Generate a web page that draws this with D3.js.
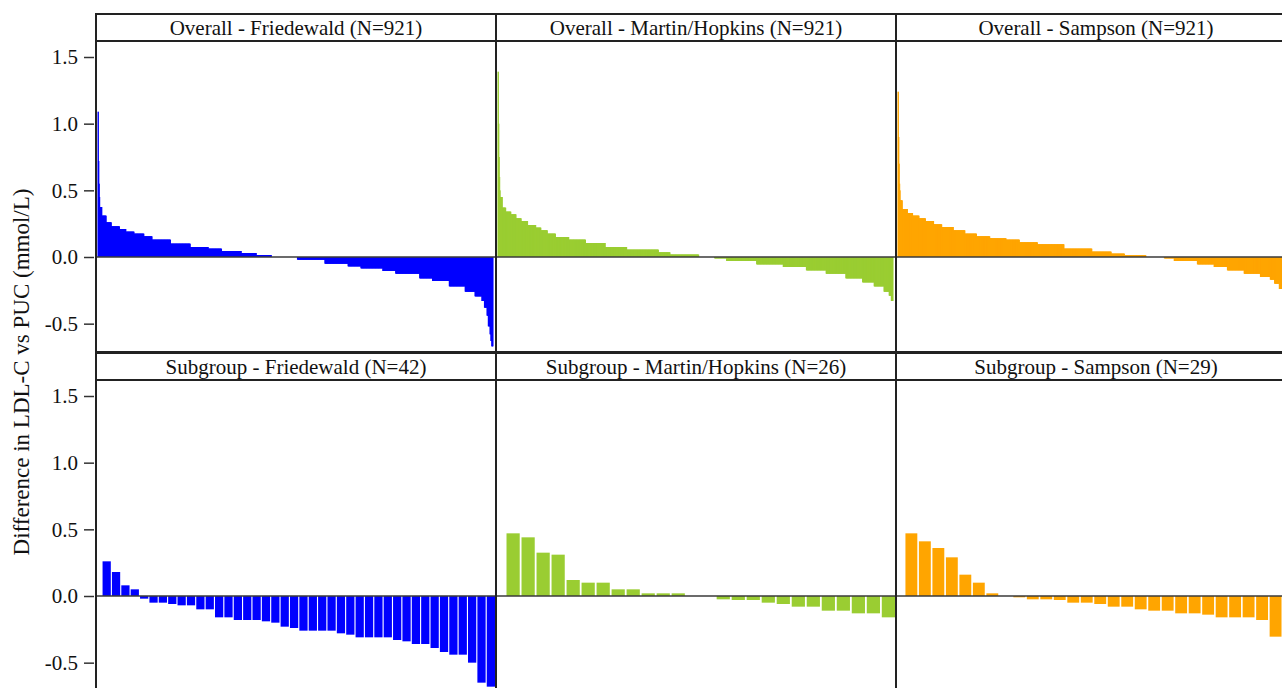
<!DOCTYPE html>
<html>
<head>
  <title>LDL-C differences</title>
  <script src="https://d3js.org/d3.v7.min.js"></script>
  <style>
    body { margin: 0; background: #fff; }
    text { font-family: "Liberation Serif", "Times New Roman", serif; fill: #111; }
  </style>
</head>
<body>
<script type="text/javascript">
  var friedewaldOverallValues = [1.09, 0.72, 0.55, 0.45, 0.375, 0.31, 0.26, 0.23, 0.21, 0.19, 0.175, 0.155, 0.13, 0.10, 0.075, 0.0625, 0.045, 0.03, 0.015,
    0, -0.02, -0.05, -0.07, -0.085, -0.105, -0.125, -0.16, -0.18, -0.22, -0.26, -0.295, -0.33, -0.38, -0.44, -0.52, -0.58, -0.63, -0.67];
  var friedewaldOverallCounts = [1, 1, 1, 1, 5, 10, 12, 19, 15, 19, 23, 19, 43, 46, 42, 31, 46, 35, 35,
    61, 64, 54, 30, 51, 30, 56, 30, 39, 37, 23, 16, 6, 6, 3, 4, 2, 2, 3];

  var martinOverallValues = [1.39, 1.0, 0.75, 0.6, 0.5, 0.45, 0.37, 0.34, 0.32, 0.29, 0.27, 0.24, 0.22, 0.20, 0.175, 0.15, 0.13, 0.105, 0.075, 0.055, 0.035, 0.018,
    0, -0.01, -0.03, -0.055, -0.075, -0.10, -0.125, -0.16, -0.19, -0.22, -0.26, -0.29, -0.33];
  var martinOverallCounts = [1, 1, 1, 1, 1, 5, 8, 12, 12, 12, 15, 19, 12, 15, 19, 31, 39, 46, 50, 74, 27, 67,
    37, 28, 70, 62, 54, 46, 46, 39, 27, 23, 12, 5, 4];

  var sampsonOverallValues = [1.24, 0.9, 0.7, 0.55, 0.5, 0.425, 0.36, 0.33, 0.31, 0.29, 0.27, 0.245, 0.225, 0.20, 0.175, 0.155, 0.14, 0.13, 0.11, 0.095, 0.0625, 0.04, 0.025, 0.0125,
    0, -0.01, -0.03, -0.055, -0.075, -0.10, -0.125, -0.15, -0.17, -0.20, -0.24, -0.29, -0.36, -0.48];
  var sampsonOverallCounts = [1, 1, 1, 1, 1, 5, 12, 12, 15, 15, 19, 19, 27, 27, 27, 31, 38, 31, 42, 62, 65, 45, 31, 50,
    43, 23, 54, 39, 31, 39, 38, 23, 10, 11, 10, 9, 7, 6];

  // subgroup, one value per participant
  var friedewaldSubgroup = [0.26, 0.18, 0.08, 0.05, -0.02, -0.05, -0.05, -0.06, -0.07, -0.07, -0.10, -0.10, -0.16, -0.16,
    -0.18, -0.18, -0.18, -0.19, -0.20, -0.23, -0.24, -0.26, -0.26, -0.26, -0.26, -0.28, -0.29, -0.31, -0.31, -0.31,
    -0.31, -0.33, -0.34, -0.36, -0.36, -0.39, -0.42, -0.44, -0.44, -0.50, -0.65, -0.68];
  var martinSubgroup = [0.47, 0.44, 0.325, 0.31, 0.12, 0.10, 0.10, 0.05, 0.05, 0.02, 0.02, 0.02, 0, 0,
    -0.025, -0.03, -0.03, -0.05, -0.06, -0.08, -0.08, -0.11, -0.11, -0.13, -0.13, -0.16];
  var sampsonSubgroup = [0.47, 0.41, 0.36, 0.29, 0.16, 0.10, 0.02, 0, -0.01, -0.025, -0.025, -0.03, -0.05, -0.05,
    -0.06, -0.08, -0.08, -0.10, -0.11, -0.11, -0.13, -0.13, -0.14, -0.16, -0.16, -0.16, -0.18, -0.305, -0.35];

  var methodNames = ["Friedewald", "Martin/Hopkins", "Sampson"];
  var methodColors = ["#0000ff", "#9acd32", "#ffa500"];
  var groupNames = ["Overall", "Subgroup"];
  var yTicks = [-0.5, 0.0, 0.5, 1.0, 1.5];
  var yTitle = "Difference in LDL-C vs PUC (mmol/L)";

  function expandRuns(values, counts) {
    var out = [];
    values.forEach(function(v, i) {
      for (var k = 0; k < counts[i]; k++) out.push(v);
    });
    return out;
  }

  var series = [
    [expandRuns(friedewaldOverallValues, friedewaldOverallCounts),
     expandRuns(martinOverallValues, martinOverallCounts),
     expandRuns(sampsonOverallValues, sampsonOverallCounts)],
    [friedewaldSubgroup, martinSubgroup, sampsonSubgroup]
  ];

  var w = 1282, h = 688;
  var marginLeft = 96, colW = 400;
  var marginTop = 14, stripH = 27, plotH = 311, rowH = stripH + plotH + 1;
  var frame = "#222";

  var svg = d3.select("body").append("svg")
    .attr("width", w)
    .attr("height", h);

  groupNames.forEach(function(g, r) {
    var stripY = marginTop + r * rowH;
    var plotY = stripY + stripH;
    var y = d3.scaleLinear()
      .domain([-0.7125, 1.62])
      .range([plotY + plotH, plotY]);

    methodNames.forEach(function(m, c) {
      var data = series[r][c];
      var x0 = marginLeft + c * colW;
      var x = d3.scaleBand()
        .domain(d3.range(data.length))
        .range(r === 0 ? [x0 + 1.5, x0 + colW - 3.5] : [x0, x0 + colW - 1])
        .paddingInner(r === 0 ? 0 : 0.12)
        .paddingOuter(r === 0 ? 0 : 0.35)
        .align(1);
      var extra = r === 0 ? 1 : 0;

      var panel = svg.append("g");

      panel.selectAll("rect.bar")
        .data(data)
        .enter()
        .append("rect")
        .attr("class", "bar")
        .attr("x", function(d, i) { return x(i); })
        .attr("width", x.bandwidth() + extra)
        .attr("y", function(d) { return y(Math.max(0, d)); })
        .attr("height", function(d) { return Math.abs(y(d) - y(0)); })
        .attr("fill", methodColors[c]);

      // zero reference
      panel.append("line")
        .attr("x1", x0).attr("x2", x0 + colW)
        .attr("y1", y(0)).attr("y2", y(0))
        .attr("stroke", "#3a3a3a")
        .attr("stroke-width", 1.5);

      // strip header
      panel.append("rect")
        .attr("x", x0).attr("y", stripY)
        .attr("width", colW).attr("height", stripH)
        .attr("fill", "none")
        .attr("stroke", frame)
        .attr("stroke-width", 2);
      panel.append("text")
        .attr("x", x0 + colW / 2)
        .attr("y", stripY + 21)
        .attr("text-anchor", "middle")
        .attr("font-size", "21px")
        .text(g + " - " + m + " (N=" + data.length + ")");

      // plot frame
      panel.append("rect")
        .attr("x", x0).attr("y", plotY)
        .attr("width", colW).attr("height", plotH)
        .attr("fill", "none")
        .attr("stroke", frame)
        .attr("stroke-width", 2);
    });

    var axis = d3.axisLeft(y)
      .tickValues(yTicks)
      .tickSize(10)
      .tickPadding(6)
      .tickFormat(d3.format(".1f"));
    var ag = svg.append("g")
      .attr("transform", "translate(" + (marginLeft - 2) + ",0)")
      .call(axis);
    ag.select(".domain").remove();
    ag.selectAll("line").attr("stroke", "#333").attr("stroke-width", 1.5);
    ag.selectAll("text")
      .attr("font-size", "21px")
      .style("font-family", "'Liberation Serif', 'Times New Roman', serif")
      .attr("fill", "#111")
      .text(function(d) { return d < 0 ? "-" + d3.format(".1f")(-d) : d3.format(".1f")(d); });
  });

  svg.append("text")
    .attr("transform", "translate(29,372) rotate(-90)")
    .attr("text-anchor", "middle")
    .attr("font-size", "23px")
    .text(yTitle);
</script>
</body>
</html>
